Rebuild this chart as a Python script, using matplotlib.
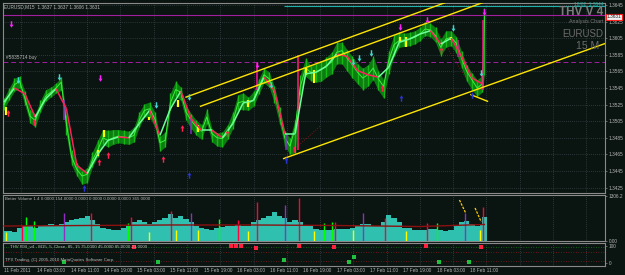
import numpy as np
import matplotlib
matplotlib.use("Agg")
import matplotlib.pyplot as plt
from matplotlib.path import Path
from matplotlib.collections import LineCollection

plt.rcParams['font.family'] = ['Liberation Sans', 'DejaVu Sans']

# ---------------- data ----------------
close_bars = list(range(0, 461, 5)) + [462]
closes = [1.3525, 1.3537, 1.3549, 1.3553, 1.3533, 1.3511, 1.3506, 1.3522, 1.3535, 1.3540,
          1.3545, 1.3552, 1.3502, 1.3462, 1.3447, 1.3439, 1.3441, 1.3458, 1.3470, 1.3485,
          1.3482, 1.3485, 1.3487, 1.3486, 1.3485, 1.3488, 1.3506, 1.3518, 1.3520, 1.3508,
          1.3479, 1.3482, 1.3527, 1.3543, 1.3540, 1.3516, 1.3506, 1.3498, 1.3493, 1.3510,
          1.3490, 1.3485, 1.3484, 1.3491, 1.3504, 1.3527, 1.3529, 1.3526, 1.3531, 1.3546,
          1.3561, 1.3556, 1.3539, 1.3514, 1.3485, 1.3475, 1.3497, 1.3547, 1.3569, 1.3564,
          1.3564, 1.3567, 1.3572, 1.3576, 1.3588, 1.3590, 1.3581, 1.3573, 1.3564, 1.3557,
          1.3561, 1.3569, 1.3556, 1.3547, 1.3578, 1.3597, 1.3602, 1.3603, 1.3604, 1.3606,
          1.3610, 1.3616, 1.3615, 1.3608, 1.3594, 1.3604, 1.3606, 1.3599, 1.3581, 1.3565,
          1.3555, 1.3545, 1.3550, 1.3631]
hi_pips = [8, 8, 8, 6, 8, 8, 8, 8, 8, 6, 6, 6,
           10, 8, 8, 6, 8, 10, 12, 10, 12, 10, 8, 8,
           8, 10, 10, 8, 8, 8, 8, 10, 12, 10, 6, 8,
           8, 8, 8, 10, 6, 6, 8, 10, 12, 10, 10, 8,
           10, 10, 8, 8, 8, 8, 8, 10, 10, 14, 12, 8,
           10, 10, 10, 12, 12, 10, 10, 10, 10, 12, 12, 14,
           10, 8, 12, 12, 10, 8, 8, 8, 8, 8, 8, 10,
           10, 10, 8, 8, 8, 8, 8, 10, 10, 10]
lo_pips = [6, 6, 8, 8, 8, 8, 8, 6, 6, 6, 6, 10,
           14, 10, 8, 10, 10, 8, 8, 8, 8, 8, 8, 8,
           8, 8, 8, 8, 10, 10, 10, 8, 8, 8, 10, 10,
           10, 10, 10, 8, 10, 10, 10, 8, 8, 8, 10, 8,
           8, 8, 10, 10, 12, 12, 10, 10, 30, 10, 10, 10,
           12, 14, 14, 14, 14, 16, 16, 16, 14, 14, 14, 14,
           14, 14, 16, 14, 8, 8, 8, 8, 8, 8, 8, 8,
           10, 10, 10, 12, 12, 12, 12, 10, 10, 70]

ma_bars = list(range(0, 461, 10))
ma_vals = [1.3528, 1.3545, 1.3538, 1.3510, 1.3532, 1.3544, 1.3520, 1.3452, 1.3442, 1.3465,
           1.3482, 1.3486, 1.3485, 1.3502, 1.3518, 1.3488, 1.3520, 1.3541, 1.3508, 1.3494,
           1.3494, 1.3485, 1.3502, 1.3527, 1.3530, 1.3558, 1.3542, 1.3490, 1.3490, 1.3562,
           1.3564, 1.3571, 1.3586, 1.3583, 1.3566, 1.3561, 1.3558, 1.3570, 1.3600, 1.3604,
           1.3610, 1.3614, 1.3598, 1.3605, 1.3583, 1.3557, 1.3550]

yellow_bars = [2, 90, 96, 139, 167, 187, 235, 290, 298, 381, 387, 430]
yellow_lo = [1.3512, 1.3463, 1.3486, 1.3506, 1.3522, 1.3492, 1.3522, 1.3561, 1.3551, 1.3600, 1.3594, 1.3603]
yellow_hi = [1.3522, 1.3470, 1.3494, 1.3510, 1.3531, 1.3500, 1.3531, 1.3569, 1.3567, 1.3606, 1.3606, 1.3606]

spike_bars = [58, 180, 243, 271, 283, 437, 461]
spike_lo = [1.3506, 1.3490, 1.3543, 1.3470, 1.3470, 1.3582, 1.3543]
spike_hi = [1.3531, 1.3510, 1.3575, 1.3490, 1.3585, 1.3603, 1.3627]
spike_col = ['#8030c0', '#8030c0', '#ff10a0', '#8030c0', '#ff2070', '#c02090', '#ff1090']

red_up_bars = [4, 29, 91, 100, 153, 171, 214, 279, 364, 420]
red_up_px = [1.3515, 1.3504, 1.3456, 1.3464, 1.3459, 1.3497, 1.3491, 1.3472, 1.3545, 1.3591]
blue_up_bars = [77, 178, 271, 382, 450]
blue_up_px = [1.3424, 1.3440, 1.3458, 1.3533, 1.3537]
cyan_dn_bars = [13, 53, 146, 178, 257, 336, 341, 353, 432, 459]
cyan_dn_px = [1.3555, 1.3558, 1.3525, 1.3534, 1.3549, 1.3576, 1.3581, 1.3587, 1.3617, 1.3563]
mag_dn_bars = [7, 92, 243, 381, 407, 462]
mag_dn_px = [1.3622, 1.3557, 1.3573, 1.3618, 1.3627, 1.3637]

chan_upper = ([175, 440], [1.3534, 1.3655])
chan_middle = ([189, 478], [1.3523, 1.3656])
chan_lower = ([269, 579], [1.3460, 1.3599])
chan_short = ([449, 465], [1.3537, 1.3529])

volumes = [290, 290, 261, 377, 435, 435, 377, 435, 464, 494,
           435, 494, 552, 610, 639, 668, 726, 610, 494, 377,
           348, 319, 319, 377, 435, 552, 610, 552, 494, 552,
           610, 668, 784, 668, 726, 639, 552, 435, 377, 348,
           319, 377, 406, 435, 435, 464, 435, 435, 552, 610,
           668, 726, 842, 726, 668, 552, 610, 552, 435, 435,
           348, 319, 319, 319, 348, 348, 348, 377, 435, 494,
           494, 435, 435, 552, 755, 668, 552, 377, 377, 319,
           319, 319, 348, 348, 319, 290, 319, 435, 552, 581,
           494, 435, 494, 697]
vol_ma_bars = [0, 80, 160, 240, 320, 400, 462]
vol_ma = [435, 450, 465, 465, 450, 420, 480]
vspec_bars = [17, 84, 122, 161, 225, 243, 284, 318, 366, 407, 461,
              21, 29, 119, 207, 308, 315, 416,
              58, 180, 270, 345, 443,
              2, 139, 165, 187, 235, 298, 336, 387, 458]
vspec_vals = [464, 813, 697, 871, 610, 1132, 1248, 552, 668, 523, 987,
              697, 580, 523, 640, 520, 550, 520,
              813, 813, 1045, 813, 813,
              260, 260, 320, 320, 290, 290, 320, 290, 320]
vspec_cols = ['#ff0040'] * 11 + ['#00ff00'] * 7 + ['#9030c0'] * 5 + ['#ffff00'] * 9

rsi_red_bars = [125, 218, 223, 228, 242, 284, 317, 406, 459]
rsi_red_vals = [94, 100, 98, 100, 90, 100, 94, 100, 92]
rsi_grn_bars = [58, 148, 269, 332, 337, 418, 447]
rsi_grn_vals = [6, 6, 18, 6, 35, 6, 6]

price_ticks = [1.3645, 1.3625, 1.3605, 1.3585, 1.3565, 1.3545, 1.3525, 1.3505,
               1.3485, 1.3465, 1.3445, 1.3425]
date_labels = ["11 Feb 2011", "14 Feb 03:00", "14 Feb 11:00", "14 Feb 19:00", "15 Feb 03:00",
               "15 Feb 11:00", "15 Feb 19:00", "16 Feb 03:00", "16 Feb 11:00", "16 Feb 19:00",
               "17 Feb 03:00", "17 Feb 11:00", "17 Feb 19:00", "18 Feb 03:00", "18 Feb 11:00"]
bars_per_label = 32

# ---------------- style ----------------
BG = '#0a1410'
FRAME = '#8a8a8a'
TXT = '#b8b8b8'
GRID = '#4e5660'
FS = 3.4

fig = plt.figure(figsize=(6.25, 2.75), dpi=100, facecolor=BG)
W, H = 625.0, 275.0


def mk_axes(top, bottom):
    return fig.add_axes([3 / W, 1 - bottom / H, 602 / W, (bottom - top) / H], facecolor=BG)


ax = mk_axes(3, 193)
axv = mk_axes(195, 241)
axr = mk_axes(243, 266)

XMIN, XMAX = -1, 578
label_pos = [i * bars_per_label for i in range(len(date_labels))]
grid_pos = [16 + i * bars_per_label for i in range(18)]

for a in (ax, axv, axr):
    a.set_xlim(XMIN, XMAX)
    for s in a.spines.values():
        s.set_color(FRAME)
        s.set_linewidth(0.8)
    a.yaxis.tick_right()
    a.tick_params(axis='y', colors=FRAME, labelcolor=TXT, labelsize=FS, length=1.5,
                  width=0.5, pad=1.0)
    a.set_xticks(grid_pos, minor=True)
    a.set_xticks([])
    a.grid(True, which='minor', axis='x', color=GRID, linestyle=(0, (1, 2)), lw=0.5)
    a.tick_params(axis='x', which='both', length=0)

# ---- main price panel
ax.set_ylim(1.34185, 1.36474)
ax.set_yticks(price_ticks)
ax.set_yticklabels([f"{p:.4f}" for p in price_ticks])
ax.grid(True, which='major', axis='y', color=GRID, linestyle=(0, (1, 2)), lw=0.5)

cb = np.array(close_bars)
cl = np.array(closes)
hi = cl + np.array(hi_pips) * 0.0001
lo = cl - np.array(lo_pips) * 0.0001
ax.fill_between(cb, lo, hi, color='#0c7d10', lw=0, zorder=2)
ax.vlines(cb, lo, hi, color='#18b818', lw=1.0, zorder=2.5)
ax.plot(cb, cl, color='#3cf03c', lw=0.7, zorder=3)
ax.vlines(yellow_bars, yellow_lo, yellow_hi, color='#ffff00', lw=1.6, zorder=3.5)
ax.vlines(spike_bars, spike_lo, spike_hi, colors=spike_col, lw=1.1, zorder=3.5)

# color-changing smoothed line
mb = np.array(ma_bars)
mv = np.array(ma_vals)
segs = [[(mb[i], mv[i]), (mb[i + 1], mv[i + 1])] for i in range(len(mb) - 1)]
cols = ['#ff1f5a' if mv[i + 1] < mv[i] else '#6cff9a' for i in range(len(mb) - 1)]
ax.add_collection(LineCollection(segs, colors=cols, linewidths=1.1, zorder=4))

# horizontal lines
ax.axhline(1.3633, color='#a020a0', lw=0.8, zorder=1.5)
ax.axhline(1.3576, color='#a020a0', lw=0.7, ls=(0, (5, 3)), zorder=1.5)
ax.hlines(1.3644, 269, XMAX, color='#20b2aa', lw=0.8, zorder=1.5)
ax.text(2, 1.3579, "#5835714 buy", color=TXT, fontsize=FS, va='bottom', ha='left', zorder=6)

# channels
for xs, ys in (chan_upper, chan_middle, chan_lower, chan_short):
    ax.plot(xs, ys, color='#ffe600', lw=1.0, zorder=5)
ax.plot([269, 305], [1.3460, 1.3500], color='#a01c1c', lw=0.6, ls=(0, (1, 2)), zorder=1.8)
ax.plot([417, 450], [1.3613, 1.3545], color='#a01c1c', lw=0.6, ls=(0, (1, 2)), zorder=1.8)

# arrows
up = Path([(-0.22, -1), (0.22, -1), (0.22, 0.05), (0.6, 0.05), (0, 1), (-0.6, 0.05),
           (-0.22, 0.05), (-0.22, -1)], closed=True)
dn = Path([(x, -y) for x, y in up.vertices], closed=True)
ax.scatter(red_up_bars, red_up_px, marker=up, s=22, color='#ff1f50', lw=0, zorder=6)
ax.scatter(blue_up_bars, blue_up_px, marker=up, s=22, color='#2a35d0', lw=0, zorder=6)
ax.scatter(cyan_dn_bars, cyan_dn_px, marker=dn, s=22, color='#40d8d0', lw=0, zorder=6)
ax.scatter(mag_dn_bars, mag_dn_px, marker=dn, s=22, color='#ff20ff', lw=0, zorder=6)

ax.text(0.002, 0.995, "EURUSD,M15  1.3637 1.3637 1.3606 1.3631", transform=ax.transAxes,
        color=TXT, fontsize=FS, va='top', ha='left', zorder=7)
ax.text(0.997, 1.004, "18/02  1.3644", transform=ax.transAxes, color='#20b2aa',
        fontsize=FS, va='top', ha='right', zorder=7)
ax.text(0.997, 0.952, "THV V 4", transform=ax.transAxes, color='#7c7c7c', fontsize=8.5,
        fontweight='bold', va='center', ha='right', zorder=7)
ax.text(0.997, 0.905, "Analysis Chart", transform=ax.transAxes, color='#7c7c7c', fontsize=FS + 0.4,
        va='center', ha='right', zorder=7)
ax.text(0.997, 0.835, "EURUSD", transform=ax.transAxes, color='#6c6c6c', fontsize=7,
        va='center', ha='right', zorder=7)
ax.text(0.990, 0.775, "15 M", transform=ax.transAxes, color='#6c6c6c', fontsize=7.5,
        va='center', ha='right', zorder=7)
ax.text(1.003, 1.3631, "1.3631", transform=ax.get_yaxis_transform(), color='#202020',
        fontsize=FS, va='center', ha='left', zorder=8, clip_on=False,
        bbox=dict(boxstyle='square,pad=0.12', fc='#f0f0f0', ec='#ff2020', lw=0.8))

# ---- volume panel
axv.set_ylim(0, 1335)
axv.set_yticks([1306.2, 0])
axv.set_yticklabels(["1306.2", "0.00"])
axv.bar(cb, volumes, width=5.2, color='#30c0b0', lw=0, zorder=2)
axv.vlines(vspec_bars, 0, vspec_vals, colors=vspec_cols, lw=1.0, zorder=3)
axv.plot(vol_ma_bars, vol_ma, color='#8b1010', lw=1.0, zorder=4)
axv.plot([438, 444], [1190, 813], color='#ffcc00', lw=0.9, ls=(0, (2, 1)), zorder=5)
axv.plot([453, 459], [958, 551], color='#ffcc00', lw=0.9, ls=(0, (2, 1)), zorder=5)
axv.text(0.003, 0.96, "Better Volume 1.4 0.0000 154.0000 0.0000 0.0000 0.0000 0.0000 365.0000",
         transform=axv.transAxes, color=TXT, fontsize=FS - 0.2, va='top', ha='left', zorder=7)

# ---- rsi panel
axr.set_ylim(-17.6, 117.6)
axr.set_yticks([100, 0])
axr.set_yticklabels(["100", "0"])
axr.axhline(94, color='#127a12', lw=0.6, ls=(0, (1, 2)))
axr.axhline(65, color='#8b1a1a', lw=0.6, ls=(0, (1, 2)))
axr.axhline(12, color='#8b1a1a', lw=0.6, ls=(0, (1, 2)))
axr.scatter(rsi_red_bars, rsi_red_vals, marker='s', s=5, color='#ff2040', lw=0, zorder=5)
axr.scatter(rsi_grn_bars, rsi_grn_vals, marker='s', s=5, color='#20c040', lw=0, zorder=5)
axr.text(0.012, 0.93, "THV RSI_v4 - M15, 5, Close, 85, 15 75.0000 45.0000 85.0000 21.0000",
         transform=axr.transAxes, color=TXT, fontsize=FS - 0.2, va='top', ha='left', zorder=7)
axr.text(0.003, 0.28, "TPX Trading, (C) 2005-2010 MetaQuotes Software Corp.",
         transform=axr.transAxes, color=TXT, fontsize=FS - 0.2, va='center', ha='left', zorder=7)

# date labels below
for pos, lab in zip(label_pos, date_labels):
    axr.text(pos, -0.1, lab, transform=axr.get_xaxis_transform(), color=TXT, fontsize=FS,
             va='top', ha='left', clip_on=False)

fig.savefig("out.png", dpi=100, facecolor=BG)
